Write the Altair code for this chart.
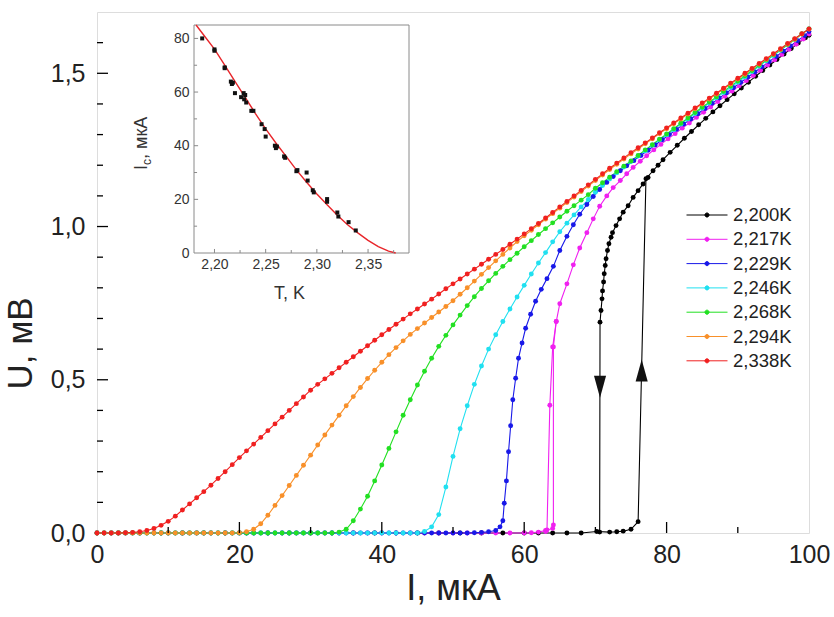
import altair as alt
import pandas as pd

FONT = "Liberation Sans"
LABELS = ["2,200K", "2,217K", "2,229K", "2,246K", "2,268K", "2,294K", "2,338K"]
COLORS = ["#000000", "#F020F0", "#1818E8", "#20E0F0", "#22E022", "#F8902A", "#F02020"]

GRID = list(range(0, 101))

red_U = [0, 0, 0, 0, 0.001, 0.002, 0.004, 0.008, 0.015, 0.025, 0.038, 0.055, 0.075, 0.095, 0.115, 0.135,
         0.156, 0.178, 0.2, 0.223, 0.246, 0.268, 0.29, 0.312, 0.334, 0.356, 0.378, 0.4, 0.422, 0.444,
         0.466, 0.485, 0.503, 0.521, 0.539, 0.557, 0.575, 0.593, 0.611, 0.629, 0.647, 0.664, 0.681, 0.698,
         0.715, 0.731, 0.747, 0.763, 0.78, 0.797, 0.813, 0.829, 0.845, 0.861, 0.877, 0.893, 0.909, 0.925,
         0.942, 0.959, 0.976, 0.993, 1.01, 1.028, 1.046, 1.064, 1.082, 1.1, 1.118, 1.136, 1.154, 1.172,
         1.19, 1.207, 1.224, 1.241, 1.257, 1.273, 1.289, 1.306, 1.322, 1.338, 1.354, 1.37, 1.387, 1.403,
         1.419, 1.435, 1.451, 1.468, 1.484, 1.5, 1.516, 1.532, 1.548, 1.564, 1.58, 1.597, 1.613, 1.629, 1.645]

orange_U = [0, 0, 0, 0, 0, 0, 0, 0, 0, 0, 0, 0, 0, 0, 0, 0, 0, 0, 0, 0, 0.001, 0.004, 0.012, 0.03, 0.058,
            0.09, 0.122, 0.155, 0.188, 0.221, 0.254, 0.287, 0.32, 0.352, 0.384, 0.415, 0.445, 0.475, 0.504,
            0.531, 0.557, 0.582, 0.605, 0.627, 0.648, 0.667, 0.685, 0.703, 0.721, 0.739, 0.758, 0.779, 0.8,
            0.822, 0.844, 0.866, 0.888, 0.909, 0.93, 0.951, 0.97, 0.988, 1.006, 1.024, 1.042, 1.06, 1.078,
            1.096, 1.114, 1.132, 1.15, 1.168, 1.186, 1.203, 1.22, 1.237, 1.253, 1.27, 1.286, 1.303, 1.319,
            1.335, 1.351, 1.367, 1.384, 1.4, 1.416, 1.432, 1.449, 1.465, 1.481, 1.497, 1.514, 1.53, 1.546,
            1.562, 1.578, 1.595, 1.611, 1.628, 1.644]

green_U = [0, 0, 0, 0, 0, 0, 0, 0, 0, 0, 0, 0, 0, 0, 0, 0, 0, 0, 0, 0, 0, 0, 0, 0, 0, 0, 0, 0, 0, 0, 0,
           0, 0, 0, 0.003, 0.012, 0.04, 0.078, 0.12, 0.17, 0.222, 0.276, 0.33, 0.384, 0.435, 0.483, 0.528,
           0.57, 0.609, 0.645, 0.679, 0.711, 0.742, 0.771, 0.798, 0.823, 0.847, 0.87, 0.892, 0.913, 0.934,
           0.954, 0.974, 0.993, 1.012, 1.031, 1.05, 1.068, 1.086, 1.104, 1.125, 1.143, 1.161, 1.179, 1.197,
           1.214, 1.232, 1.25, 1.267, 1.285, 1.302, 1.319, 1.337, 1.354, 1.372, 1.389, 1.406, 1.423, 1.441,
           1.458, 1.475, 1.492, 1.509, 1.526, 1.543, 1.56, 1.577, 1.594, 1.611, 1.628, 1.645]

cyan_U = [0, 0, 0, 0, 0, 0, 0, 0, 0, 0, 0, 0, 0, 0, 0, 0, 0, 0, 0, 0, 0, 0, 0, 0, 0, 0, 0, 0, 0, 0, 0,
          0, 0, 0, 0, 0, 0, 0, 0, 0, 0, 0, 0, 0, 0, 0, 0.005, 0.02, 0.06, 0.15, 0.25, 0.34, 0.415, 0.485,
          0.545, 0.6, 0.647, 0.69, 0.731, 0.77, 0.808, 0.845, 0.881, 0.915, 0.95, 0.983, 1.011, 1.038,
          1.064, 1.088, 1.112, 1.134, 1.155, 1.175, 1.194, 1.212, 1.23, 1.247, 1.265, 1.282, 1.299, 1.316,
          1.334, 1.351, 1.369, 1.386, 1.403, 1.42, 1.437, 1.454, 1.471, 1.488, 1.506, 1.523, 1.541, 1.558,
          1.575, 1.593, 1.61, 1.628, 1.645]

blue_I = [0, 1, 2, 3, 4, 5, 6, 7, 8, 9, 10, 11, 12, 13, 14, 15, 16, 17, 18, 19, 20, 21, 22, 23, 24, 25,
          26, 27, 28, 29, 30, 31, 32, 33, 34, 35, 36, 37, 38, 39, 40, 41, 42, 43, 44, 45, 46, 47, 48, 49,
          50, 51, 52, 53, 54, 55, 56, 56.6, 57.0, 57.2, 57.5, 57.8, 58.1, 58.4, 58.8, 59.2, 59.7, 60.2,
          60.9, 61.6, 62.4, 63.2, 64.1, 65.0, 66.0, 66.9, 67.8, 68.8, 69.7, 70.6, 71.6, 72.5, 73.5, 74.4,
          75.4, 76.4, 77.4, 78.4, 79.4, 80.4, 81.4, 82.4, 83.4, 84.4, 85.4, 86.4, 87.4, 88.4, 89.4, 90.4,
          91.4, 92.4, 93.4, 94.4, 95.4, 96.4, 97.4, 98.4, 99.4, 100]
blue_U = [0, 0, 0, 0, 0, 0, 0, 0, 0, 0, 0, 0, 0, 0, 0, 0, 0, 0, 0, 0, 0, 0, 0, 0, 0, 0, 0, 0, 0, 0, 0,
          0, 0, 0, 0, 0, 0, 0, 0, 0, 0, 0, 0, 0, 0, 0, 0, 0, 0, 0, 0, 0, 0, 0.001, 0.002, 0.004, 0.008,
          0.02, 0.04, 0.097, 0.17, 0.265, 0.35, 0.435, 0.505, 0.57, 0.62, 0.668, 0.714, 0.756, 0.795,
          0.83, 0.87, 0.922, 0.968, 1.006, 1.04, 1.072, 1.098, 1.121, 1.144, 1.163, 1.182, 1.198, 1.215,
          1.232, 1.249, 1.266, 1.283, 1.3, 1.317, 1.334, 1.351, 1.368, 1.385, 1.402, 1.419, 1.436, 1.453,
          1.47, 1.487, 1.504, 1.521, 1.538, 1.555, 1.572, 1.589, 1.606, 1.623, 1.636]

magenta_up_I = [0, 2, 4, 6, 8, 10, 12, 14, 16, 18, 20, 22, 24, 26, 28, 30, 32, 34, 36, 38, 40, 42, 44,
                46, 48, 50, 52, 54, 56, 58, 60, 61, 62, 63, 64, 64.1, 64.1, 64.5, 65.0, 66.0, 66.9, 67.8,
                68.8, 69.7, 70.6, 71.6, 72.5, 73.5, 74.4, 75.3, 76.3, 77.2, 78.2, 79.2, 80.2, 81.2, 82.2,
                83.2, 84.2, 85.2, 86.2, 87.2, 88.2, 89.2, 90.2, 91.2, 92.2, 93.2, 94.2, 95.2, 96.2, 97.2,
                98.2, 99.2, 100]
magenta_up_U = [0, 0, 0, 0, 0, 0, 0, 0, 0, 0, 0, 0, 0, 0, 0, 0, 0, 0, 0, 0, 0, 0, 0, 0, 0, 0, 0, 0, 0,
                0, 0, 0.001, 0.003, 0.008, 0.015, 0.026, 0.607, 0.69, 0.748, 0.813, 0.875, 0.93, 0.98, 1.025,
                1.066, 1.1, 1.127, 1.15, 1.172, 1.193, 1.213, 1.231, 1.25, 1.268, 1.286, 1.303, 1.321, 1.338,
                1.356, 1.373, 1.39, 1.408, 1.425, 1.442, 1.459, 1.476, 1.493, 1.51, 1.527, 1.544, 1.561,
                1.578, 1.595, 1.612, 1.628]
magenta_down_I = [64.5, 64.0, 63.6, 63.2, 63.0]
magenta_down_U = [0.69, 0.607, 0.417, 0.01, 0.005]

black_up_I = [0, 3, 6, 9, 12, 15, 18, 21, 24, 27, 30, 33, 36, 39, 42, 45, 48, 51, 54, 57, 60, 62, 64, 66,
              68, 70.2, 72.0, 73.0, 73.9, 75.0, 76.0, 77.1, 78.1, 78.8, 79.5, 80.5, 81.5, 82.5, 83.5, 84.5,
              85.5, 86.5, 87.5, 88.5, 89.5, 90.5, 91.5, 92.5, 93.5, 94.5, 95.5, 96.5, 97.5, 98.5, 99.5, 100]
black_up_U = [0, 0, 0, 0, 0, 0, 0, 0, 0, 0, 0, 0, 0, 0, 0, 0, 0, 0, 0, 0, 0, 0, 0, 0, 0, 0.005, 0.003,
              0.004, 0.006, 0.012, 0.037, 1.156, 1.182, 1.2, 1.218, 1.242, 1.265, 1.288, 1.31, 1.332, 1.353,
              1.374, 1.394, 1.414, 1.433, 1.452, 1.471, 1.49, 1.509, 1.527, 1.545, 1.563, 1.581, 1.599,
              1.616, 1.624]
black_down_I = [77.4, 76.7, 76.0, 75.3, 74.6, 73.9, 73.4, 72.9, 72.4, 72.2, 71.9, 71.7, 71.5, 71.38,
                71.24, 71.15, 71.0, 70.93, 70.79, 70.65, 70.6]
black_down_U = [1.16, 1.139, 1.117, 1.095, 1.068, 1.047, 1.025, 1.003, 0.98, 0.965, 0.944, 0.922, 0.895,
                0.873, 0.846, 0.819, 0.79, 0.764, 0.726, 0.688, 0.003]

arrow_I = [70.65, 76.5]
arrow_U = [0.477, 0.53]
arrow_dir = ["down", "up"]

# inset: critical current vs temperature
inset_T = [2.188, 2.200, 2.200, 2.210, 2.210, 2.216, 2.217, 2.218, 2.220, 2.226, 2.2285, 2.230, 2.229,
           2.231, 2.236, 2.238, 2.246, 2.249, 2.250, 2.259, 2.260, 2.261, 2.268, 2.269, 2.280, 2.281,
           2.290, 2.291, 2.296, 2.297, 2.310, 2.310, 2.320, 2.321, 2.331, 2.338]
inset_Ic = [80, 75.9, 75.4, 69.2, 68.9, 63.9, 63.0, 63.5, 59.6, 58.1, 59.6, 58.9, 57.3, 56.1, 53.0, 53.0,
            48.0, 46.2, 43.4, 40.0, 39.1, 39.7, 36.0, 35.5, 30.5, 30.9, 30.0, 27.0, 23.4, 22.6, 20.1, 19.1,
            15.1, 13.6, 11.5, 8.4]
fit_T = [2.182, 2.19, 2.20, 2.21, 2.22, 2.23, 2.24, 2.25, 2.26, 2.27, 2.28, 2.29, 2.30, 2.31, 2.32, 2.33,
         2.34, 2.35, 2.36, 2.37, 2.377]
fit_Ic = [85, 81, 76, 70, 64, 58, 52, 46.3, 41, 36, 31, 26.4, 22, 18, 14.1, 10.5, 7.5, 4.7, 2.4, 0.7, 0.0]
inset_T_range = [2.18, 2.39]
inset_Ic_range = [0, 85]
inset_ytitle_parts = ["I", "c", ", мкА"]

x_major = [20, 40, 60, 80]
x_minor = [10, 30, 50, 70, 90]
y_major = [0.5, 1.0, 1.5]
y_minor = [0.1, 0.2, 0.3, 0.4, 0.6, 0.7, 0.8, 0.9, 1.1, 1.2, 1.3, 1.4, 1.6]
inset_xticks = [2.20, 2.25, 2.30, 2.35]
inset_xminor = [2.225, 2.275, 2.325, 2.375]
inset_yticks = [0, 20, 40, 60, 80]
inset_yminor = [10, 30, 50, 70]

# ---------------- build tables ----------------
traces = [
    ("2,200K", "k_up", black_up_I, black_up_U),
    ("2,200K", "k_down", black_down_I, black_down_U),
    ("2,217K", "m_up", magenta_up_I, magenta_up_U),
    ("2,217K", "m_down", magenta_down_I, magenta_down_U),
    ("2,229K", "b", blue_I, blue_U),
    ("2,246K", "c", GRID, cyan_U),
    ("2,268K", "g", GRID, green_U),
    ("2,294K", "o", GRID, orange_U),
    ("2,338K", "r", GRID, red_U),
]
rows = []
for lab, tr, xs, ys in traces:
    for k, (x, y) in enumerate(zip(xs, ys)):
        rows.append({"I": x, "U": y, "series": lab, "trace": tr, "k": k})
df = pd.DataFrame(rows)

W, H = 712, 521
color = alt.Color("series:N", scale=alt.Scale(domain=LABELS, range=COLORS),
                  legend=alt.Legend(title=None, orient="none", legendX=589, legendY=194,
                                    symbolType="M-1,0L1,0M-0.1,0a0.1,0.1 0 1,0 0.2,0a0.1,0.1 0 1,0 -0.2,0",
                                    symbolSize=1681, symbolStrokeWidth=1, labelFont=FONT,
                                    labelFontSize=18.5, labelColor="#222", labelOffset=5,
                                    clipHeight=18, rowPadding=5.3))

xenc = alt.X("I:Q", scale=alt.Scale(domain=[0, 100], nice=False),
             axis=alt.Axis(title="I, мкА", values=[0, 20, 40, 60, 80, 100], tickSize=0, domain=False,
                           grid=False, labelFont=FONT, labelFontSize=25, labelColor="#222",
                           labelPadding=9, titleFont=FONT, titleFontSize=36, titleFontWeight="normal",
                           titleColor="#222", titlePadding=4, labelFlush=False))
yenc = alt.Y("U:Q", scale=alt.Scale(domain=[0, 1.7], nice=False),
             axis=alt.Axis(title="U, мВ", values=[0, 0.5, 1.0, 1.5], tickSize=0, domain=False, grid=False,
                           labelExpr="replace(format(datum.value, '.1f'), '.', ',')",
                           labelFont=FONT, labelFontSize=25, labelColor="#222", labelPadding=12,
                           titleFont=FONT, titleFontSize=35, titleFontWeight="normal", titleColor="#222",
                           titlePadding=12, titleY=331))

base = alt.Chart(df)
lines = base.mark_line(strokeWidth=1.1).encode(
    x=xenc, y=yenc, color=color, detail="trace:N", order="k:Q")
dots = base.mark_circle(size=24, opacity=1).encode(x="I:Q", y="U:Q", color=alt.Color("series:N", legend=None,
                                                   scale=alt.Scale(domain=LABELS, range=COLORS)))

arrows_df = pd.DataFrame({"I": arrow_I, "U": arrow_U, "dir": arrow_dir})
arr_down = alt.Chart(arrows_df).transform_filter("datum.dir == 'down'").mark_point(
    shape="M-0.55,-1L0.55,-1L0,1Z", size=484, filled=True, color="#111", opacity=1).encode(x="I:Q", y="U:Q")
arr_up = alt.Chart(arrows_df).transform_filter("datum.dir == 'up'").mark_point(
    shape="M-0.55,1L0.55,1L0,-1Z", size=484, filled=True, color="#111", opacity=1).encode(x="I:Q", y="U:Q")

xticks_major = alt.Chart(pd.DataFrame({"I": x_major})).mark_rule(color="#000", strokeWidth=1.3).encode(
    x="I:Q", y=alt.value(H), y2=alt.value(H - 11))
xticks_minor = alt.Chart(pd.DataFrame({"I": x_minor})).mark_rule(color="#000", strokeWidth=1.3).encode(
    x="I:Q", y=alt.value(H), y2=alt.value(H - 6))
yticks_major = alt.Chart(pd.DataFrame({"U": y_major})).mark_rule(color="#000", strokeWidth=1.3).encode(
    y="U:Q", x=alt.value(0), x2=alt.value(11))
yticks_minor = alt.Chart(pd.DataFrame({"U": y_minor})).mark_rule(color="#000", strokeWidth=1.3).encode(
    y="U:Q", x=alt.value(0), x2=alt.value(6))

# inset y-axis title with a subscript, built from text pieces
ttl = pd.DataFrame({"t": inset_ytitle_parts})
t_I = alt.Chart(ttl).transform_filter("datum.t == 'I'").mark_text(
    angle=270, align="left", baseline="alphabetic", font=FONT, fontSize=18, color="#333").encode(
    x=alt.value(50), y=alt.value(158), text="t:N")
t_c = alt.Chart(ttl).transform_filter("datum.t == 'c'").mark_text(
    angle=270, align="left", baseline="alphabetic", font=FONT, fontSize=12, color="#333").encode(
    x=alt.value(54), y=alt.value(153), text="t:N")
t_rest = alt.Chart(ttl).transform_filter("datum.t != 'I' && datum.t != 'c'").mark_text(
    angle=270, align="left", baseline="alphabetic", font=FONT, fontSize=18, color="#333").encode(
    x=alt.value(50), y=alt.value(147), text="t:N")

main = alt.layer(lines, dots, arr_down, arr_up, xticks_major, xticks_minor, yticks_major, yticks_minor,
                 t_I, t_c, t_rest)

# ---------------- inset ----------------
IX0, IX1 = 97, 312
IY0, IY1 = 241, 13
tx = alt.Scale(domain=inset_T_range, range=[IX0, IX1], nice=False, zero=False)
ty = alt.Scale(domain=inset_Ic_range, range=[IY0, IY1], nice=False, zero=False)
ixaxis = alt.Axis(orient="bottom", offset=-(H - IY0), title="T, K", values=inset_xticks, tickSize=0,
                  domain=False, grid=False, labelExpr="replace(format(datum.value, '.2f'), '.', ',')",
                  labelFont=FONT, labelFontSize=14, labelColor="#333", labelPadding=4,
                  titleFont=FONT, titleFontSize=18, titleFontWeight="normal", titleColor="#333",
                  titlePadding=13, titleX=192)
iyaxis = alt.Axis(orient="left", offset=-IX0, title=None, values=inset_yticks, tickSize=0,
                  domain=False, grid=False, labelFont=FONT, labelFontSize=14, labelColor="#333",
                  labelPadding=5)

frame_df = pd.DataFrame({"T": [inset_T_range[0]], "T2": [inset_T_range[1]],
                         "Ic": [inset_Ic_range[0]], "Ic2": [inset_Ic_range[1]]})
frame = alt.Chart(frame_df).mark_rect(fill="white", stroke="#8a8a8a", strokeWidth=1).encode(
    x=alt.X("T:Q", scale=tx, axis=ixaxis), x2="T2:Q",
    y=alt.Y("Ic:Q", scale=ty, axis=iyaxis), y2="Ic2:Q")
fit = alt.Chart(pd.DataFrame({"T": fit_T, "Ic": fit_Ic})).mark_line(color="#E8252A", strokeWidth=1.4).encode(
    x=alt.X("T:Q", scale=tx, axis=ixaxis), y=alt.Y("Ic:Q", scale=ty, axis=iyaxis))
pts = alt.Chart(pd.DataFrame({"T": inset_T, "Ic": inset_Ic})).mark_square(size=16, color="#111",
                                                                          opacity=1).encode(
    x=alt.X("T:Q", scale=tx, axis=ixaxis), y=alt.Y("Ic:Q", scale=ty, axis=iyaxis))
itick_df = pd.DataFrame({"T": inset_xticks + inset_xminor, "Ic": [0.0] * 8,
                         "Ic2": [1.5] * 4 + [1.1] * 4})
itx = alt.Chart(itick_df).mark_rule(color="#8a8a8a").encode(
    x=alt.X("T:Q", scale=tx, axis=ixaxis), y=alt.Y("Ic:Q", scale=ty, axis=iyaxis), y2="Ic2:Q")
iytick_df = pd.DataFrame({"Ic": inset_yticks[1:] + inset_yminor, "T": [inset_T_range[0]] * 8,
                          "T2": [inset_T_range[0] + 0.004] * 4 + [inset_T_range[0] + 0.003] * 4})
ity = alt.Chart(iytick_df).mark_rule(color="#8a8a8a").encode(
    y=alt.Y("Ic:Q", scale=ty, axis=iyaxis), x=alt.X("T:Q", scale=tx, axis=ixaxis), x2="T2:Q")
inset = alt.layer(frame, fit, pts, itx, ity)

chart = alt.layer(main, inset).resolve_scale(x="independent", y="independent").properties(
    width=W, height=H,
    autosize=alt.AutoSizeParams(type="none"),
    padding={"left": 97, "top": 12, "right": 25, "bottom": 84},
).configure_view(stroke="#000", strokeWidth=1.5).configure(background="white")

chart.save("out.html", embed_options={"renderer": "svg", "actions": False})
